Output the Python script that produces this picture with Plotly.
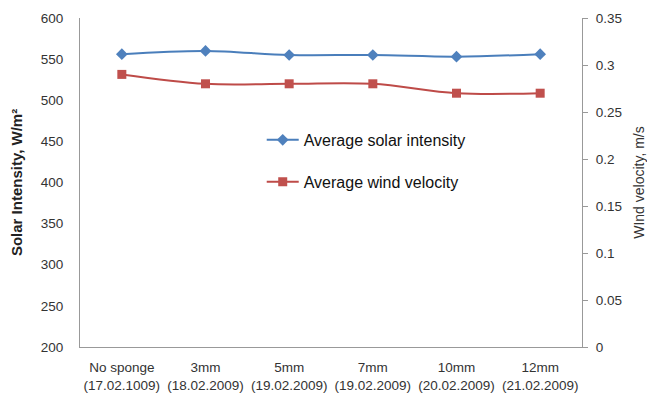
import plotly.graph_objects as go

categories = ["No sponge<br>(17.02.1009)", "3mm<br>(18.02.2009)", "5mm<br>(19.02.2009)",
              "7mm<br>(19.02.2009)", "10mm<br>(20.02.2009)", "12mm<br>(21.02.2009)"]
solar = [556, 560, 555, 555, 553, 556]
wind = [0.29, 0.28, 0.28, 0.28, 0.27, 0.27]

fig = go.Figure()
fig.add_trace(go.Scatter(x=categories, y=solar, name="Average solar intensity",
                         mode="lines+markers", line=dict(color="#4A7EBB", width=2, shape="spline"),
                         marker=dict(symbol="diamond", size=9, color="#4F81BD"),
                         legendgroup="a"))
fig.add_trace(go.Scatter(x=categories, y=wind, name="Average wind velocity", yaxis="y2",
                         mode="lines+markers", line=dict(color="#BE4B48", width=2, shape="spline"),
                         marker=dict(symbol="square", size=9, color="#C0504D"),
                         legendgroup="b"))

font = "Liberation Sans, Arial, sans-serif"
tf = dict(size=13.5, color="#333")
fig.update_layout(
    width=647, height=400,
    margin=dict(l=80, r=65, t=18, b=53),
    paper_bgcolor="white", plot_bgcolor="white",
    font=dict(family=font, size=12, color="#222"),
    xaxis=dict(showline=True, linecolor="#999", linewidth=1, showgrid=False, ticks="",
               tickfont=tf, range=[-0.5, 5.5], ticklabelstandoff=8, automargin=False),
    yaxis=dict(range=[200, 600], dtick=50, showline=True, linecolor="#999", linewidth=1,
               showgrid=False, ticks="", zeroline=False, tickfont=tf, ticklabelstandoff=13,
               automargin=False,
               title=dict(text="<b>Solar Intensity, W/m²</b>", font=dict(size=15, color="#222"), standoff=14)),
    yaxis2=dict(range=[0, 0.35], dtick=0.05, overlaying="y", side="right", showline=True,
                linecolor="#999", linewidth=1, showgrid=False, ticks="outside", ticklen=5,
                tickcolor="#999", zeroline=False, tickfont=tf, ticklabelstandoff=5,
                automargin=False,
                title=dict(text="WInd velocity, m/s", font=dict(size=14, color="#333"), standoff=14)),
    legend=dict(x=0.362, y=0.681, xanchor="left", yanchor="top", bgcolor="rgba(0,0,0,0)",
                font=dict(size=16, color="#111"), tracegroupgap=18, itemwidth=32),
    showlegend=True,
)
fig.write_html("out.html")
